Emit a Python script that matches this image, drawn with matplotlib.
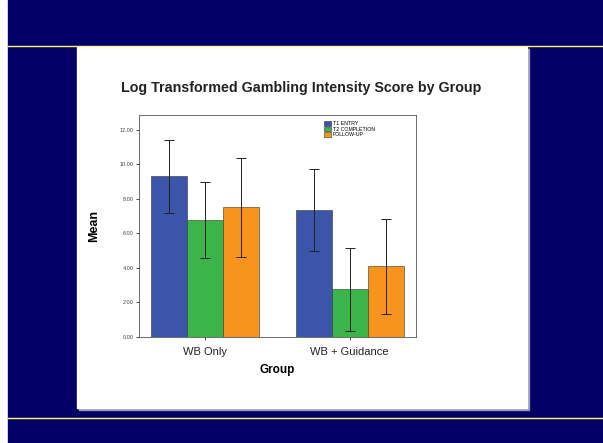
import numpy as np
import matplotlib
matplotlib.use('Agg')
import matplotlib.pyplot as plt
from matplotlib.patches import Rectangle
from matplotlib.lines import Line2D

plt.rcParams['font.family'] = ['Liberation Sans', 'DejaVu Sans']

groups = ['WB Only', 'WB + Guidance']
series = ['T1 ENTRY', 'T2 COMPLETION', 'FOLLOW-UP']
t1_entry = [9.3, 7.35]
t1_err = [2.1, 2.4]
t2_completion = [6.75, 2.75]
t2_err = [2.2, 2.4]
follow_up = [7.5, 4.1]
fu_err = [2.85, 2.75]
yticks = [0, 2, 4, 6, 8, 10, 12]

colors = ['#3b55a8', '#3bb54a', '#f7941d']
navy = '#000066'

W, H = 603, 443
fig = plt.figure(figsize=(W / 100, H / 100), dpi=100)
fig.patch.set_facecolor('white')


def px(x0, y0, x1, y1):
    # pixel box (top-left origin) -> figure fraction rect
    return (x0 / W, 1 - y1 / H), (x1 - x0) / W, (y1 - y0) / H


# slide background
xy, w, h = px(8, 0, 603, 443)
fig.patches.append(Rectangle(xy, w, h, transform=fig.transFigure, color=navy, zorder=0))
for yy in (46, 418):
    fig.lines.append(Line2D([8 / W, 1], [1 - yy / H] * 2, transform=fig.transFigure,
                            color='#ffff66', lw=1.0, zorder=1))
# shadow + white panel
xy, w, h = px(79, 49, 529, 410)
fig.patches.append(Rectangle(xy, w, h, transform=fig.transFigure, color='#9a9ab8', zorder=1))
xy, w, h = px(77, 47, 527, 408)
fig.patches.append(Rectangle(xy, w, h, transform=fig.transFigure, color='white', zorder=2))

ax = fig.add_axes([139 / W, 1 - 337 / H, 277 / W, 222 / H])
ax.set_zorder(3)

x = np.arange(len(groups))
bw = 0.25
vals = [t1_entry, t2_completion, follow_up]
errs = [t1_err, t2_err, fu_err]
for i, (v, e) in enumerate(zip(vals, errs)):
    ax.bar(x + (i - 1) * bw, v, bw, color=colors[i], edgecolor='#333333', linewidth=0.4,
           label=series[i], zorder=2)
    ax.errorbar(x + (i - 1) * bw, v, yerr=e, fmt='none', ecolor='#222222', elinewidth=0.7,
                capsize=3.5, capthick=0.7, zorder=3)

ax.set_xlim(-0.46, 1.46)
ax.set_ylim(0, 12.85)
ax.set_yticks(yticks)
ax.set_yticklabels(['%.2f' % t for t in yticks], fontsize=4, color='#444444')
ax.set_xticks(x)
ax.set_xticklabels(groups, fontsize=8, color='#222222')
ax.tick_params(axis='y', length=2.5, width=0.5, pad=1.5)
ax.tick_params(axis='x', length=2.5, width=0.5, pad=5)
for s in ax.spines.values():
    s.set_linewidth(0.6)
    s.set_color('#555555')
ax.set_xlabel('Group', fontsize=8.5, fontweight='bold', labelpad=5)
ax.set_ylabel('Mean', fontsize=9, fontweight='bold', labelpad=14)

leg = ax.legend(loc='upper left', bbox_to_anchor=(0.655, 0.99), fontsize=3.8, frameon=False,
                handlelength=1.3, handleheight=1.0, labelspacing=0.1, borderpad=0.2,
                handletextpad=0.3)

fig.text(301 / W, 1 - 88 / H, 'Log Transformed Gambling Intensity Score by Group',
         ha='center', va='center', fontsize=10.3, fontweight='bold', color='#222222', zorder=4)

fig.savefig('out.png', dpi=100)
